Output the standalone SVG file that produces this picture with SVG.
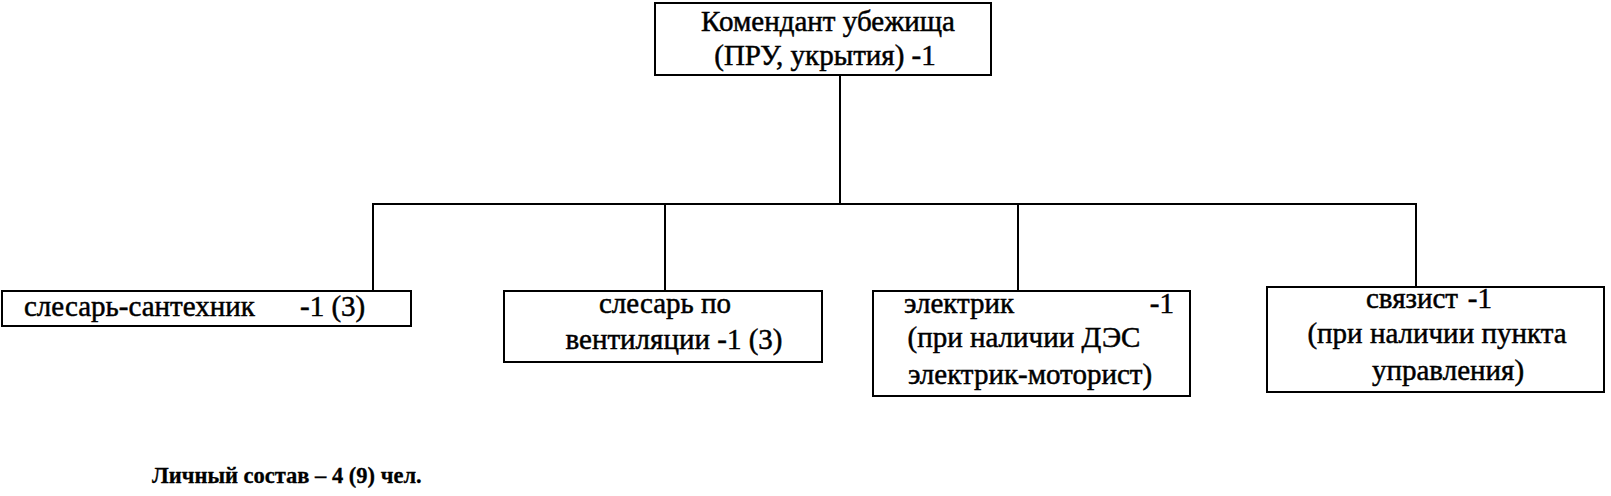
<svg xmlns="http://www.w3.org/2000/svg" width="1611" height="496" viewBox="0 0 1611 496">
<style>
.box{fill:#fff;stroke:#000;stroke-width:2}
.conn line{stroke:#000;stroke-width:2}
text{font-family:"Liberation Serif","Times New Roman",serif;font-size:29px;fill:#000;stroke:#000;stroke-width:0.5}
.c{text-anchor:middle}
.e{text-anchor:end}
.b{font-weight:bold;font-size:22.5px;stroke-width:0.3}
</style>
<rect width="1611" height="496" fill="#fff"/>
<g id="connectors" class="conn">
<line x1="840" y1="75" x2="840" y2="204"/>
<line x1="372" y1="204" x2="1417" y2="204"/>
<line x1="373" y1="204" x2="373" y2="291"/>
<line x1="665" y1="204" x2="665" y2="291"/>
<line x1="1018" y1="204" x2="1018" y2="291"/>
<line x1="1416" y1="204" x2="1416" y2="287"/>
</g>
<g id="commandant">
<rect class="box" x="655" y="3" width="336" height="72"/>
<text class="c" x="828" y="31">Комендант убежища</text>
<text class="c" x="825" y="65">(ПРУ, укрытия) -1</text>
</g>
<g id="plumber">
<rect class="box" x="2" y="291" width="409" height="35"/>
<text x="24" y="316">слесарь-сантехник</text>
<text x="300" y="316">-1 (3)</text>
</g>
<g id="ventilation">
<rect class="box" x="504" y="291" width="318" height="71"/>
<text class="c" x="665" y="313">слесарь по</text>
<text class="c" x="674" y="349">вентиляции -1 (3)</text>
</g>
<g id="electrician">
<rect class="box" x="873" y="291" width="317" height="105"/>
<text x="904" y="313">электрик</text>
<text class="e" x="1174" y="313">-1</text>
<text class="c" x="1024" y="347">(при наличии ДЭС</text>
<text class="c" x="1030" y="384">электрик-моторист)</text>
</g>
<g id="signalman">
<rect class="box" x="1267" y="287" width="337" height="105"/>
<text x="1366" y="308">связист</text>
<text class="e" x="1492" y="308">-1</text>
<text class="c" x="1437" y="343">(при наличии пункта</text>
<text class="c" x="1448" y="380">управления)</text>
</g>
<text class="b" x="152" y="483">Личный состав – 4 (9) чел.</text>
</svg>
